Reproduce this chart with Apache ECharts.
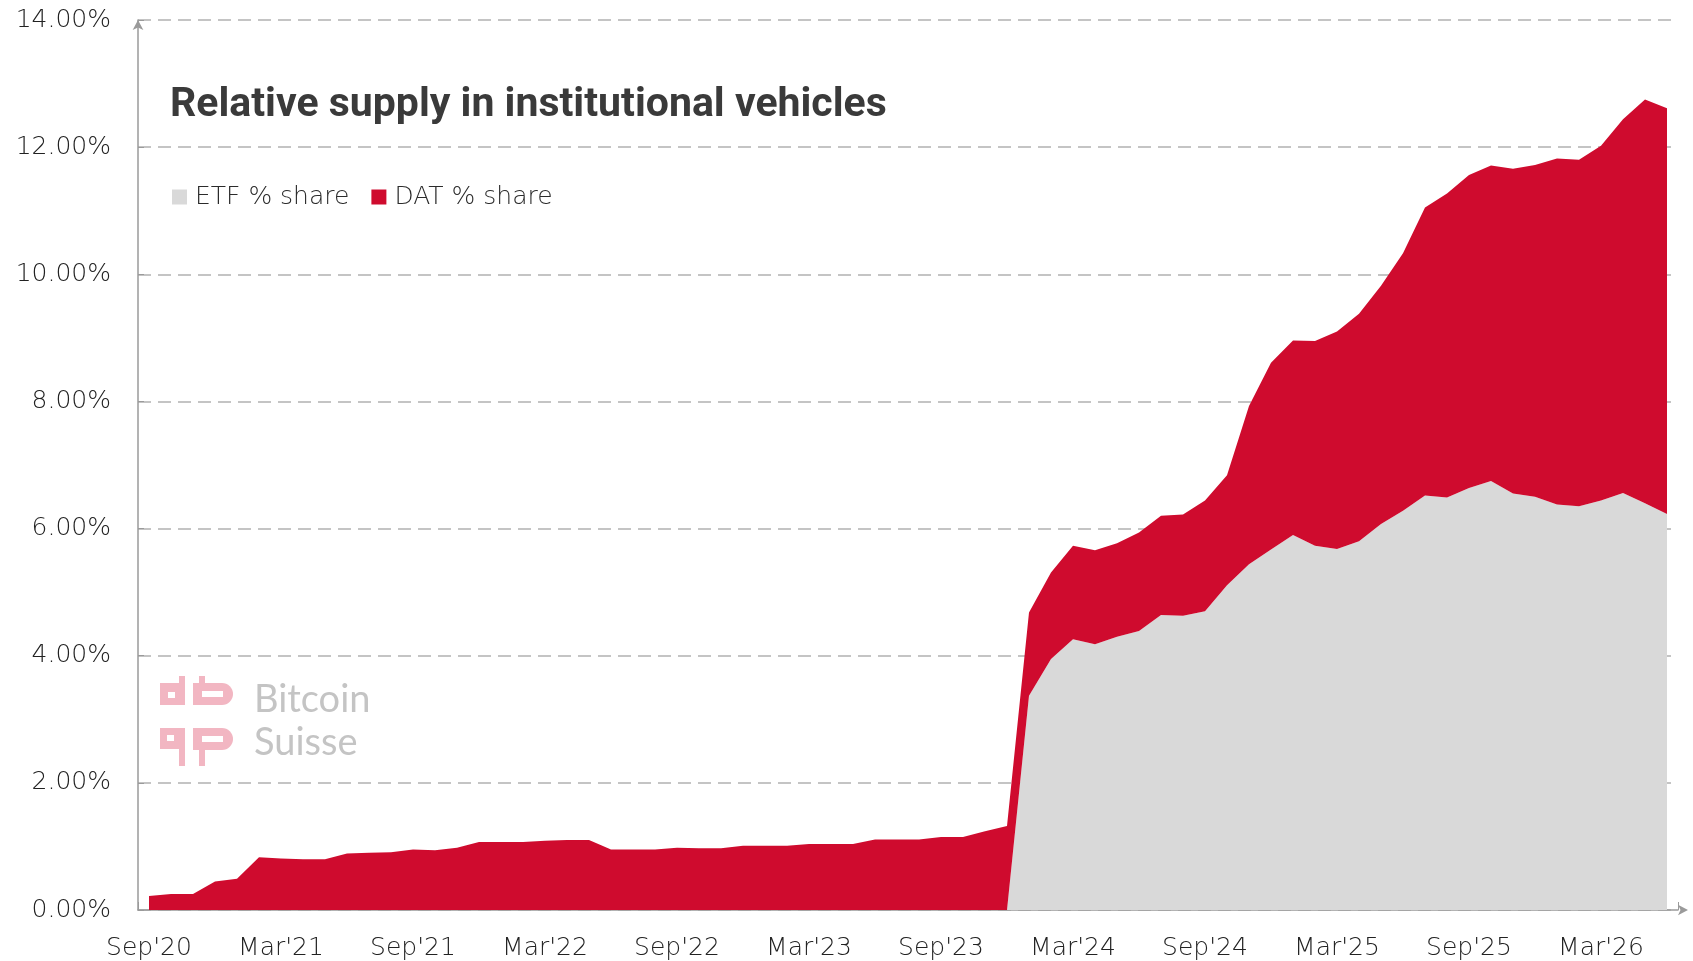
<!DOCTYPE html>
<html>
<head>
<meta charset="utf-8">
<script src="https://cdn.jsdelivr.net/npm/echarts@6/dist/echarts.min.js"></script>
<style>
html,body{margin:0;padding:0;background:#fff;}
#chart{width:1693px;height:961px;}
</style>
</head>
<body>
<div id="chart"></div>
<script>
const months = ["Sep'20","Oct'20","Nov'20","Dec'20",
"Jan'21","Feb'21","Mar'21","Apr'21","May'21","Jun'21","Jul'21","Aug'21","Sep'21","Oct'21","Nov'21","Dec'21",
"Jan'22","Feb'22","Mar'22","Apr'22","May'22","Jun'22","Jul'22","Aug'22","Sep'22","Oct'22","Nov'22","Dec'22",
"Jan'23","Feb'23","Mar'23","Apr'23","May'23","Jun'23","Jul'23","Aug'23","Sep'23","Oct'23","Nov'23","Dec'23",
"Jan'24","Feb'24","Mar'24","Apr'24","May'24","Jun'24","Jul'24","Aug'24","Sep'24","Oct'24","Nov'24","Dec'24",
"Jan'25","Feb'25","Mar'25","Apr'25","May'25","Jun'25","Jul'25","Aug'25","Sep'25","Oct'25","Nov'25","Dec'25",
"Jan'26","Feb'26","Mar'26","Apr'26","May'26","Jun'26"];

const etfShare = [0,0,0,0,0,0,0,0,0,0,
0,0,0,0,0,0,0,0,0,0,
0,0,0,0,0,0,0,0,0,0,
0,0,0,0,0,0,0,0,0,0,
3.37,3.95,4.26,4.18,4.30,4.39,4.64,4.63,4.70,5.11,
5.44,5.67,5.90,5.73,5.68,5.80,6.07,6.28,6.52,6.49,
6.64,6.75,6.55,6.50,6.38,6.35,6.44,6.56,6.40,6.23];

const datShare = [0.22,0.25,0.25,0.45,0.49,0.83,0.81,0.80,0.80,0.89,
0.90,0.91,0.95,0.94,0.98,1.07,1.07,1.07,1.09,1.10,
1.10,0.95,0.95,0.95,0.98,0.97,0.97,1.01,1.01,1.01,
1.04,1.04,1.04,1.11,1.11,1.11,1.15,1.15,1.24,1.32,
1.31,1.36,1.47,1.48,1.47,1.55,1.56,1.59,1.74,1.73,
2.49,2.94,3.06,3.22,3.42,3.58,3.75,4.05,4.53,4.78,
4.92,4.96,5.11,5.22,5.44,5.45,5.58,5.88,6.35,6.38];

const seriesNames = ['ETF % share','DAT % share'];
const titleText = 'Relative supply in institutional vehicles';

const RED = '#cf0b2e';
const GRAY = '#d9d9d9';
const PINK = '#f2b6c2';
const LABEL_FONT = 'DejaVu Sans';

const chart = echarts.init(document.getElementById('chart'), null, {renderer:'canvas'});

const logoRects = [
  {x:160,y:683,w:20,h:22,r:0}, {x:179,y:676,w:6,h:29,r:0}, {x:199,y:676,w:6,h:8,r:0},
  {x:193,y:683,w:40,h:22,r:[0,11,11,0]},
  {x:160,y:728,w:20,h:21,r:0}, {x:179,y:728,w:6,h:38,r:0}, {x:199,y:748,w:6,h:18,r:0},
  {x:193,y:728,w:40,h:22,r:[0,11,11,0]}
];
const logoHoles = [
  {x:168,y:692,w:7,h:6}, {x:202,y:691,w:21,h:6},
  {x:167,y:735,w:7,h:6}, {x:202,y:736,w:21,h:6}
];

const graphics = [];
logoRects.forEach(r => graphics.push({type:'rect', shape:{x:r.x,y:r.y,width:r.w,height:r.h,r:r.r}, style:{fill:PINK}, z:1, silent:true}));
logoHoles.forEach(r => graphics.push({type:'rect', shape:{x:r.x,y:r.y,width:r.w,height:r.h}, style:{fill:'#fff'}, z:2, silent:true}));
graphics.push({type:'text', left:254, top:681, style:{text:'Bitcoin', font:'38px Lato', fill:'#c4c4c4'}, z:2, silent:true});
graphics.push({type:'text', left:254, top:724, style:{text:'Suisse', font:'38px Lato', fill:'#c4c4c4'}, z:2, silent:true});

const option = {
  animation:false,
  backgroundColor:'#fff',
  title:{
    text:titleText, left:170, top:83, padding:0,
    textStyle:{fontFamily:'Roboto', fontWeight:700, fontSize:41, color:'#3a3a3a', lineHeight:46}
  },
  legend:{
    left:172, top:182, padding:0, itemGap:22, itemWidth:15, itemHeight:15,
    icon:'rect',
    data:seriesNames,
    textStyle:{fontFamily:LABEL_FONT, fontWeight:300, fontSize:25, color:'#2b2b2b', lineHeight:30, padding:[0,0,0,3]}
  },
  grid:{left:138, right:15, top:20, bottom:50, containLabel:false},
  xAxis:{
    type:'category', data:months, boundaryGap:true,
    axisLine:{show:true, lineStyle:{color:'#9a9a9a', width:1.5}, symbol:['none','arrow'], symbolSize:[8,10], symbolOffset:[0,10]},
    axisTick:{show:true, inside:true, length:8, interval:5, lineStyle:{color:'#9a9a9a'}},
    axisLabel:{interval:5, margin:26, fontFamily:LABEL_FONT, fontWeight:300, fontSize:25, color:'#222'},
    splitLine:{show:false}
  },
  yAxis:{
    type:'value', min:0, max:14, interval:2,
    axisLine:{show:true, lineStyle:{color:'#9a9a9a', width:1.5}, symbol:['none','arrow'], symbolSize:[8,10]},
    axisTick:{show:true, inside:true, length:6, lineStyle:{color:'#9a9a9a'}},
    axisLabel:{margin:27, fontFamily:LABEL_FONT, fontWeight:300, fontSize:25, color:'#222',
      formatter: v => v.toFixed(2) + '%'},
    splitLine:{show:true, lineStyle:{color:'#c4c4c4', width:2, type:[13,7]}}
  },
  series:[
    {name:seriesNames[0], type:'line', stack:'total', data:etfShare, showSymbol:false, symbol:'none',
     lineStyle:{width:0}, areaStyle:{color:GRAY, opacity:1}, itemStyle:{color:GRAY}, z:3},
    {name:seriesNames[1], type:'line', stack:'total', data:datShare, showSymbol:false, symbol:'none',
     lineStyle:{width:0}, areaStyle:{color:RED, opacity:1}, itemStyle:{color:RED}, z:3}
  ],
  graphic:graphics
};
chart.setOption(option);
</script>
</body>
</html>
